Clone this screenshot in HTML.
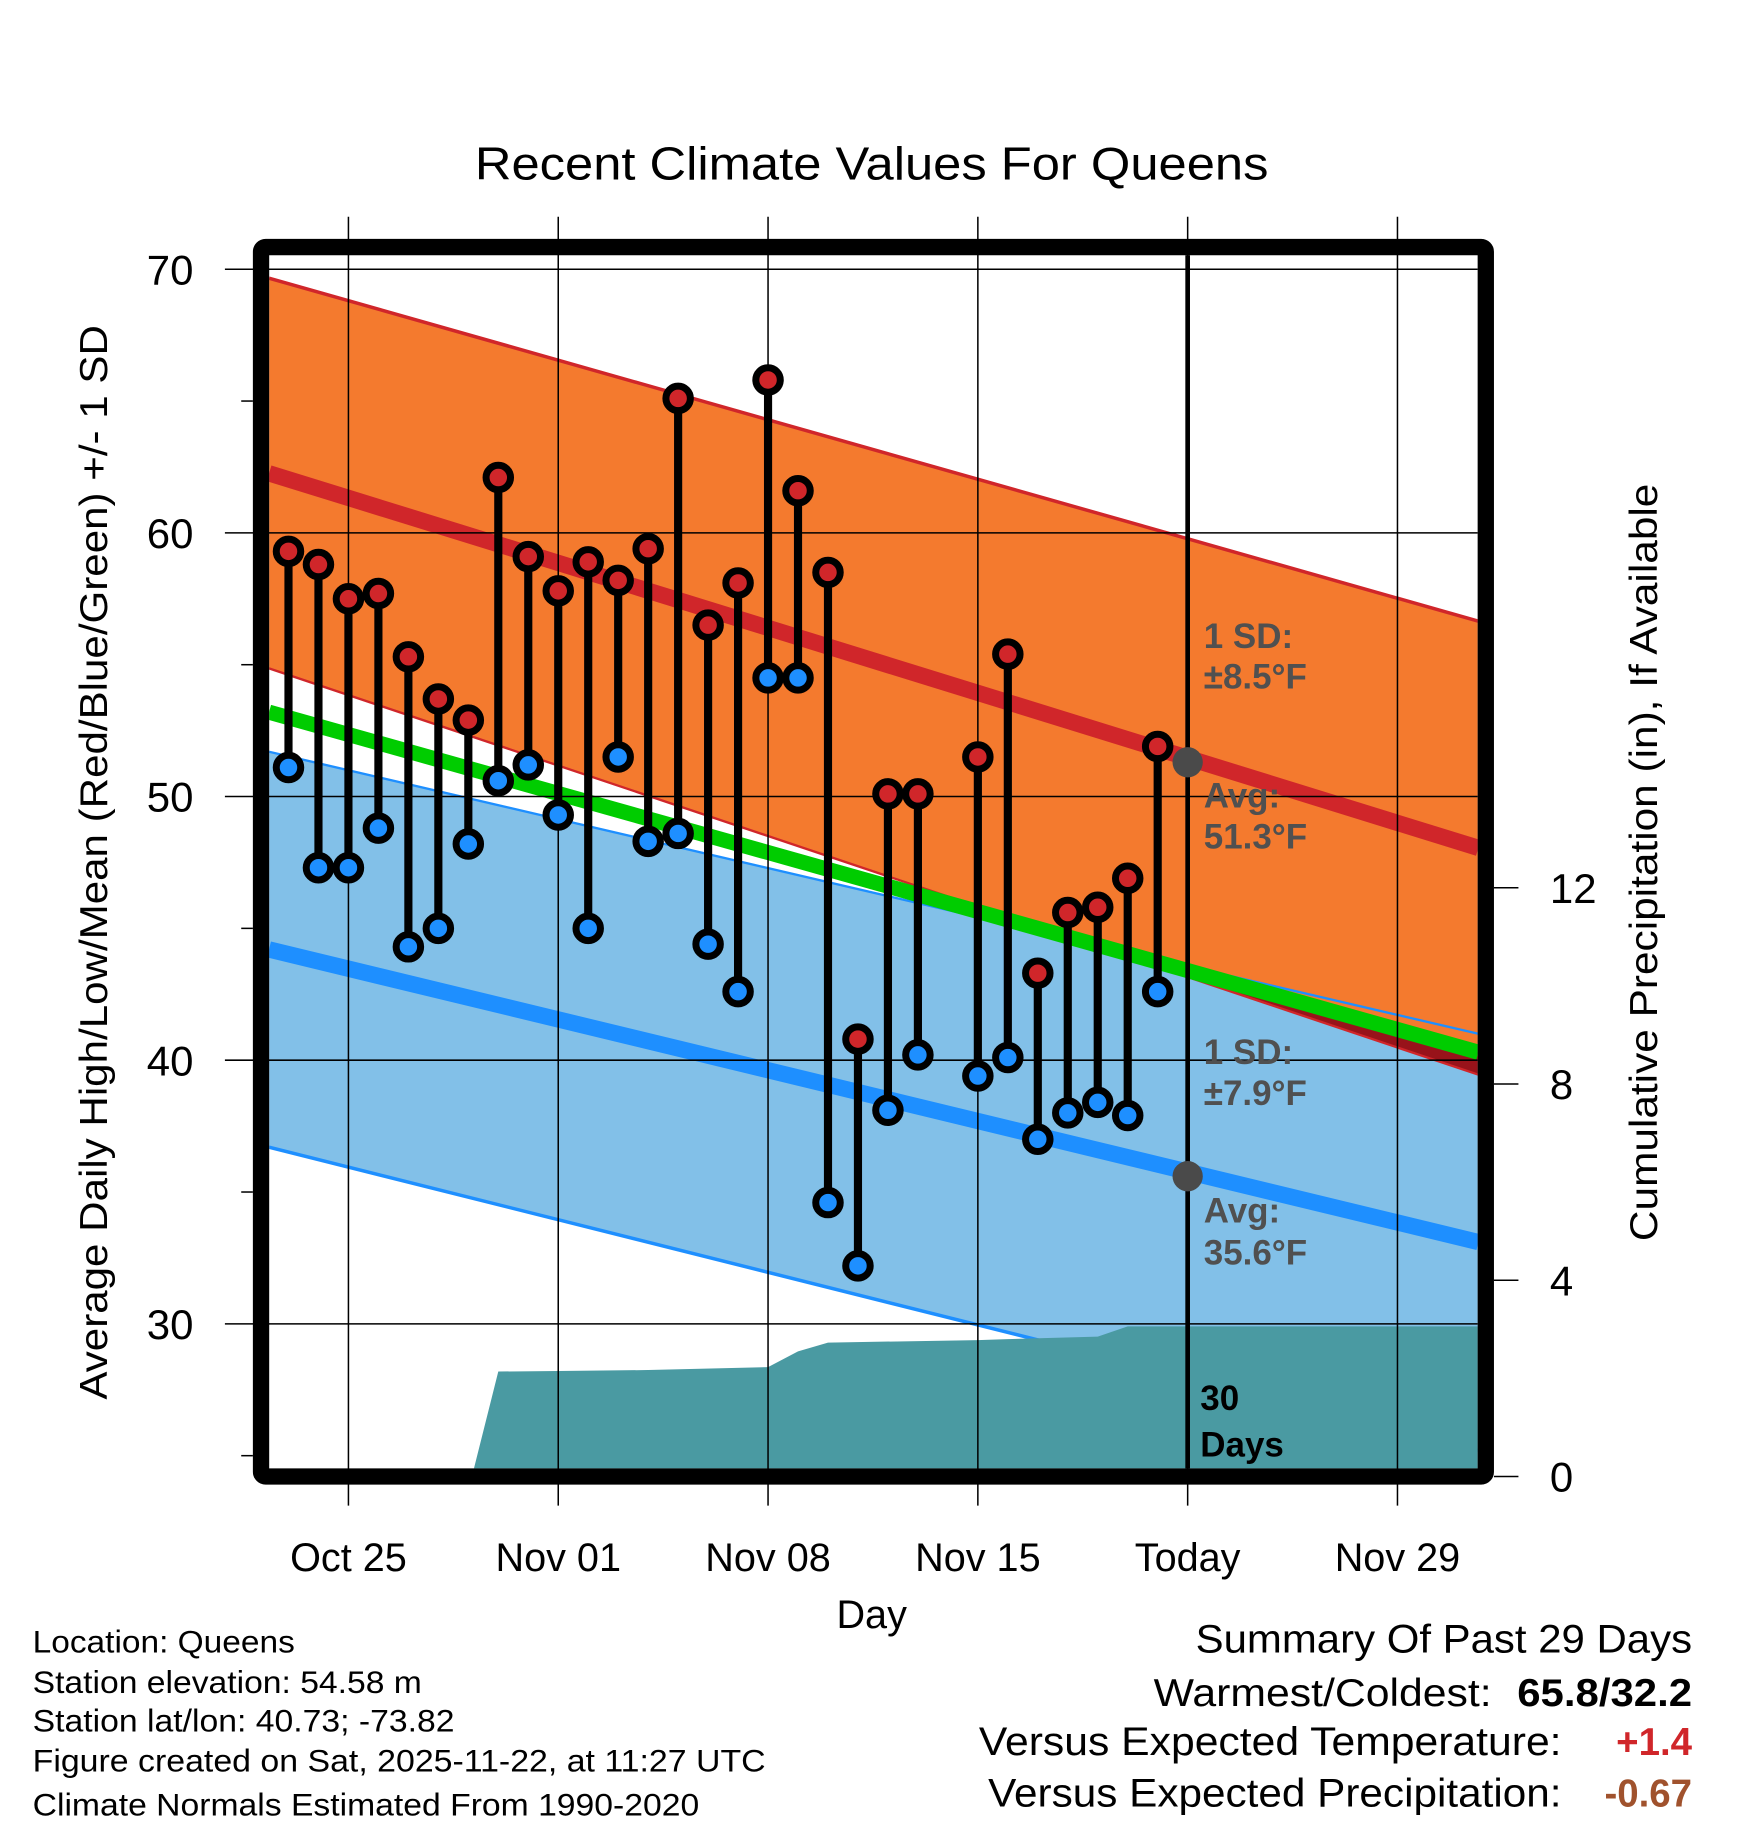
<!DOCTYPE html>
<html><head><meta charset="utf-8"><style>
html,body{margin:0;padding:0;background:#fff;}
svg{display:block;font-family:"Liberation Sans",sans-serif;}
</style></head><body>
<svg id="chart" width="1748" height="1828" viewBox="0 0 1500 1568.6" xmlns="http://www.w3.org/2000/svg">
<defs><clipPath id="plotclip"><rect x="231" y="219" width="1037" height="1041"/></clipPath></defs>
<g id="layers"></g>
</svg>
<script>
// ---- data (day offsets relative to Oct 25) ----
const days = [-2,-1,0,1,2,3,4,5,6,7,8,9,10,11,12,13,14,15,16,17,18,19,21,22,23,24,25,26,27];
const highs = [59.3,58.8,57.5,57.7,55.3,53.7,52.9,62.1,59.1,57.8,58.9,58.2,59.4,65.1,56.5,58.1,65.8,61.6,58.5,40.8,50.1,50.1,51.5,55.4,43.3,45.6,45.8,46.9,51.9];
const lows = [51.1,47.3,47.3,48.8,44.3,45.0,48.2,50.6,51.2,49.3,45.0,51.5,48.3,48.6,44.4,42.6,54.5,54.5,34.6,32.2,38.1,40.2,39.4,40.1,37.0,38.0,38.4,37.9,42.6];
const normalDays = [-2.65, 37.7];
const normHigh = [62.26, 48.05];
const normHighSD = [7.4, 8.6];
const normLow = [44.2, 33.1];
const normLowSD = [7.5, 7.9];
const normMean = [53.2, 40.3];
const precipDays = [-2.65,4.12,5.0,7,10,14,15,16,21,22,25,26,37.7];
const precipCum = [0,0,2.14,2.15,2.17,2.23,2.55,2.73,2.78,2.80,2.85,3.06,3.06];
const xTickDays = [0,7,14,21,28,35];
const xTickLabels = ["Oct 25","Nov 01","Nov 08","Nov 15","Today","Nov 29"];
const yTicks = [30,40,50,60,70];
const yMinor = [25,35,45,55,65];
const pTicks = [0,4,8,12];
const todayDay = 28;
const todayHigh = 51.3, todayLow = 35.6;

// ---- axes ----
const X = d => 299 + d*25.72;
const Y = v => 231 + (70 - v)*22.625;
const P = p => 1267 - p*42.1;
const NS = "http://www.w3.org/2000/svg";
const root = document.getElementById('layers');
function mk(tag, attrs, parent){const e=document.createElementNS(NS,tag);for(const k in attrs)e.setAttribute(k,attrs[k]);(parent||root).appendChild(e);return e;}
function lin(arr, d){const t=(d-normalDays[0])/(normalDays[1]-normalDays[0]);return arr[0]+(arr[1]-arr[0])*t;}
function band(center, sd, sign, d){return lin(center,d)+sign*lin(sd,d);}

const plot = mk('g',{'clip-path':'url(#plotclip)'});


const d0=normalDays[0], d1=normalDays[1];
// blue band
const blue = mk('polygon',{points:`${X(d0)},${Y(band(normLow,normLowSD,1,d0))} ${X(d1)},${Y(band(normLow,normLowSD,1,d1))} ${X(d1)},${Y(band(normLow,normLowSD,-1,d1))} ${X(d0)},${Y(band(normLow,normLowSD,-1,d0))}`,fill:'#82C0E8'},plot);


// orange band
const orange = mk('polygon',{points:`${X(d0)},${Y(band(normHigh,normHighSD,1,d0))} ${X(d1)},${Y(band(normHigh,normHighSD,1,d1))} ${X(d1)},${Y(band(normHigh,normHighSD,-1,d1))} ${X(d0)},${Y(band(normHigh,normHighSD,-1,d0))}`,fill:'#F47A2E'},plot);


// dark red overlap below mean
{
  const pts=[];const n=60;
  for(let i=0;i<=n;i++){const d=d0+(d1-d0)*i/n;pts.push([X(d),Y(lin(normMean,d)),Y(band(normHigh,normHighSD,-1,d))]);}
  let top=[],bot=[];
  pts.forEach(p=>{const lo=Math.max(p[1],p[2]);top.push(`${p[0]},${p[1]}`);bot.unshift(`${p[0]},${lo}`);});
  const dr=mk('polygon',{points:top.concat(bot).join(' '),fill:'#98131A'},plot);
  
  
}
// band edges
[[normHigh,normHighSD,1,'#D0262A',3],[normHigh,normHighSD,-1,'#D0262A',2],[normLow,normLowSD,1,'#1E8FFF',2],[normLow,normLowSD,-1,'#1E8FFF',3]].forEach((b,i)=>{
  const l=mk('line',{x1:X(d0),y1:Y(band(b[0],b[1],b[2],d0)),x2:X(d1),y2:Y(band(b[0],b[1],b[2],d1)),stroke:b[3],'stroke-width':b[4]},plot);
  
  
});
// avg lines
const hl=mk('line',{x1:X(d0),y1:Y(lin(normHigh,d0)),x2:X(d1),y2:Y(lin(normHigh,d1)),stroke:'#D0262A','stroke-width':14},plot);


const ll=mk('line',{x1:X(d0),y1:Y(lin(normLow,d0)),x2:X(d1),y2:Y(lin(normLow,d1)),stroke:'#1E8FFF','stroke-width':14},plot);


const ml=mk('line',{x1:X(d0),y1:Y(lin(normMean,d0)),x2:X(d1),y2:Y(lin(normMean,d1)),stroke:'#00CC00','stroke-width':13},plot);


// precip area
{
  let pts=`${X(precipDays[0])},${P(0)} `;
  precipDays.forEach((d,i)=>{pts+=`${X(d)},${P(precipCum[i])} `;});
  pts+=`${X(precipDays[precipDays.length-1])},${P(0)}`;
  const pa=mk('polygon',{points:pts,fill:'#4A9AA2'},plot);
  
  
}
// grid
const grid=mk('g',{stroke:'#000','stroke-width':1.3});


xTickDays.forEach(d=>{mk('line',{x1:X(d),y1:186,x2:X(d),y2:1292},grid);});
yTicks.forEach(v=>{mk('line',{x1:193,y1:Y(v),x2:1268,y2:Y(v)},grid);});
yMinor.forEach(v=>{mk('line',{x1:207,y1:Y(v),x2:217,y2:Y(v)},grid);});
pTicks.forEach(p=>{mk('line',{x1:1282,y1:P(p),x2:1303,y2:P(p)},grid);});
// today line
const tl=mk('line',{x1:X(todayDay),y1:219,x2:X(todayDay),y2:1260,stroke:'#000','stroke-width':4});


// stems & markers
days.forEach((d,i)=>{
  const s=mk('line',{x1:X(d),y1:Y(highs[i]),x2:X(d),y2:Y(lows[i]),stroke:'#000','stroke-width':7});
  
  
});
days.forEach((d,i)=>{
  const h=mk('circle',{cx:X(d),cy:Y(highs[i]),r:10.5,fill:'#D0262A',stroke:'#000','stroke-width':6});
  
  
  const l=mk('circle',{cx:X(d),cy:Y(lows[i]),r:10.5,fill:'#1E8FFF',stroke:'#000','stroke-width':6});
  
  
});
const th=mk('circle',{cx:X(todayDay),cy:Y(todayHigh),r:13,fill:'#4A4A4A'});


const tlo=mk('circle',{cx:X(todayDay),cy:Y(todayLow),r:13,fill:'#4A4A4A'});


// frame
const fr=mk('rect',{x:224,y:212,width:1051,height:1055,fill:'none',stroke:'#000','stroke-width':14,rx:4});


// tick labels
function txt(s,attrs,name){const t=mk('text',attrs);t.textContent=s;return t;}
yTicks.forEach(v=>txt(String(v),{x:166,y:Y(v)+13,'font-size':36,'text-anchor':'end'},'y-tick-label'));
xTickDays.forEach((d,i)=>txt(xTickLabels[i],{x:X(d),y:1348,'font-size':34,'text-anchor':'middle'},'x-tick-label'));
pTicks.forEach(p=>txt(String(p),{x:1330,y:P(p)+13,'font-size':36},'precip-tick-label'));
</script>
<script>
(function(){
const svg=document.getElementById('chart');const NS="http://www.w3.org/2000/svg";
function t(s,a,name,inter){const e=document.createElementNS(NS,'text');for(const k in a)e.setAttribute(k,a[k]);e.textContent=s;


svg.appendChild(e);return e;}
t('Recent Climate Values For Queens',{x:748,y:154,'font-size':40,'text-anchor':'middle',textLength:681,lengthAdjust:'spacingAndGlyphs'},'chart-title');
t('Day',{x:748,y:1397,'font-size':34,'text-anchor':'middle'},'x-axis-title');
t('Average Daily High/Low/Mean (Red/Blue/Green) +/- 1 SD',{x:0,y:0,'font-size':33,'text-anchor':'middle',transform:'translate(92,740) rotate(-90)',textLength:922,lengthAdjust:'spacingAndGlyphs'},'y-axis-title');
t('Cumulative Precipitation (in), If Available',{x:0,y:0,'font-size':33,'text-anchor':'middle',transform:'translate(1422,740) rotate(-90)',textLength:650,lengthAdjust:'spacingAndGlyphs'},'precip-axis-title');
const g={fill:'#505050','font-size':30,'font-weight':'bold'};
[['1 SD:',556],['±8.5°F',591],['Avg:',693],['51.3°F',728],['1 SD:',913],['±7.9°F',948],['Avg:',1049],['35.6°F',1085]].forEach(a=>t(a[0],Object.assign({x:1033,y:a[1]},g),'normal-annotation'));
t('30',{x:1030,y:1210,'font-size':30,'font-weight':'bold'},'days-label');
t('Days',{x:1030,y:1250,'font-size':30,'font-weight':'bold'},'days-label');
[['Location: Queens',1418,225],['Station elevation: 54.58 m',1453,334],['Station lat/lon: 40.73; -73.82',1486,362],['Figure created on Sat, 2025-11-22, at 11:27 UTC',1520,629],['Climate Normals Estimated From 1990-2020',1558,572]].forEach(a=>t(a[0],{x:28,y:a[1],'font-size':27,textLength:a[2],lengthAdjust:'spacingAndGlyphs'},'station-info'));
t('Summary Of Past 29 Days',{x:1452,y:1418,'font-size':34,'text-anchor':'end',textLength:426,lengthAdjust:'spacingAndGlyphs'},'summary-title');
t('Warmest/Coldest:',{x:1280,y:1464,'font-size':33,'text-anchor':'end',textLength:290,lengthAdjust:'spacingAndGlyphs'},'summary-label');
t('65.8/32.2',{x:1452,y:1464,'font-size':33,'font-weight':'bold','text-anchor':'end',textLength:150,lengthAdjust:'spacingAndGlyphs'},'warmest-coldest-value');
t('Versus Expected Temperature:',{x:1340,y:1506,'font-size':34,'text-anchor':'end',textLength:500,lengthAdjust:'spacingAndGlyphs'},'summary-label');
t('+1.4',{x:1452,y:1506,'font-size':33,'font-weight':'bold','text-anchor':'end',fill:'#D0262A'},'temp-anomaly-value');
t('Versus Expected Precipitation:',{x:1340,y:1550,'font-size':34,'text-anchor':'end',textLength:492,lengthAdjust:'spacingAndGlyphs'},'summary-label');
t('-0.67',{x:1452,y:1550,'font-size':33,'font-weight':'bold','text-anchor':'end',fill:'#A0522D'},'precip-anomaly-value');
})();
</script>
</body></html>
